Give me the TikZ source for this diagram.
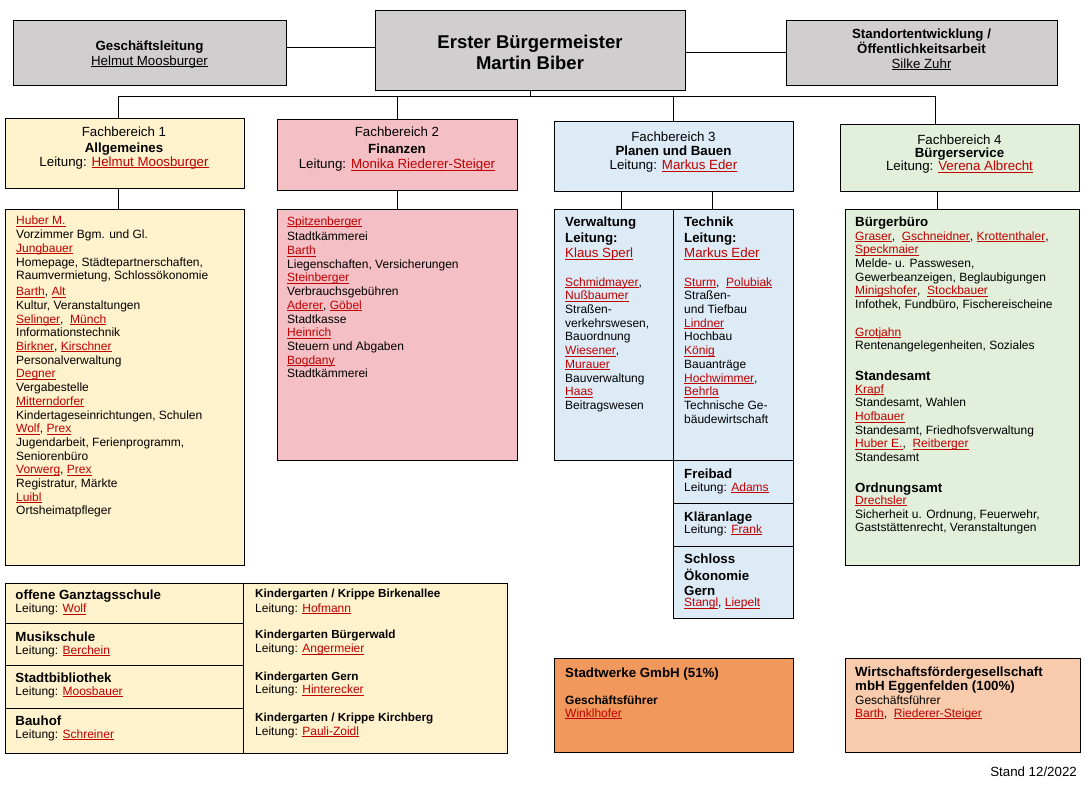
\documentclass[tikz,border=0pt]{standalone}
\usepackage{fontspec}
\setmainfont{Liberation Sans}
\usepackage{xcolor}
\definecolor{nred}{HTML}{C00000}
\definecolor{cgray}{HTML}{D0CECE}
\definecolor{ccream}{HTML}{FFF2CC}
\definecolor{cpink}{HTML}{F4BFC5}
\definecolor{cblue}{HTML}{DDEBF7}
\definecolor{cgreen}{HTML}{E2EFDA}
\definecolor{corange}{HTML}{F1995D}
\definecolor{cpeach}{HTML}{F8CBAD}
\newcommand\ulname[1]{\leavevmode\setbox0\hbox{#1}\rlap{\rule[-1.7pt]{\wd0}{0.75pt}}\box0}
\newcommand\nm[1]{\textcolor{nred}{\ulname{#1}}}
\newcommand\fb{\fontsize{12}{13.7}\selectfont}
\newcommand\fh{\fontsize{13.3}{15.5}\selectfont\bfseries}
\newcommand\ft{\fontsize{13.3}{15}\selectfont}
\newcommand\fk{\fontsize{11.7}{14}\selectfont\bfseries}
\newcommand\fbm{\fontsize{18.5}{21}\selectfont\bfseries}
\tikzset{
  box/.style={draw=black, line width=0.8pt, inner sep=0pt, outer sep=0pt, anchor=north west},
  ln/.style={inner sep=0pt, anchor=base west},
  lc/.style={inner sep=0pt, anchor=base},
  blk/.style={inner sep=0pt, anchor=north west, align=left},
  con/.style={draw=black, line width=0.8pt},
}
\newcommand\bx[6]{\node[box, fill=#6, minimum width={#4-#2}, minimum height={#5-#3}] (#1) at (#2,#3) {};}
\begin{document}
\begin{tikzpicture}[x=1pt,y=-1pt]
\useasboundingbox[fill=white] (0,0) rectangle (1086,785);
% boxes
\bx{gl}{13}{20}{286}{85}{cgray}
\bx{bm}{375}{10}{685}{90}{cgray}
\bx{se}{786}{20}{1057}{85}{cgray}
\bx{fb1}{5}{118}{244}{188}{ccream}
\bx{fb2}{277}{119}{517}{190}{cpink}
\bx{fb3}{554}{121}{793}{191}{cblue}
\bx{fb4}{840}{124}{1079}{191}{cgreen}
\bx{col1}{5}{209}{244}{565}{ccream}
\bx{col2}{277}{209}{517}{460}{cpink}
\bx{verw}{554}{209}{673}{460}{cblue}
\bx{tech}{673}{209}{793}{460}{cblue}
\bx{frei}{673}{460}{793}{503}{cblue}
\bx{klaer}{673}{503}{793}{546}{cblue}
\bx{schl}{673}{546}{793}{618}{cblue}
\bx{col4}{845}{209}{1079}{565}{cgreen}
\bx{ogs}{5}{583}{243}{623}{ccream}
\bx{musik}{5}{623}{243}{665}{ccream}
\bx{bib}{5}{665}{243}{708}{ccream}
\bx{bauhof}{5}{708}{243}{753}{ccream}
\bx{kita}{243}{583}{507}{753}{ccream}
\bx{sw}{554}{658}{793}{752}{corange}
\bx{wf}{845}{658}{1080}{752}{cpeach}
% connectors
\coordinate (cl) at (300,47.5);
\coordinate (cr) at (700,52);
\coordinate (busL) at (118,96);
\coordinate (busR) at (935,96);
\coordinate (v1) at (621,0);
\coordinate (v2) at (712,0);
\coordinate (v4) at (937,0);
\draw[con] (gl.east |- cl) -- (bm.west |- cl);
\draw[con] (bm.east |- cr) -- (se.west |- cr);
\draw[con] (busL) -- (busR);
\draw[con] (bm.south) -- (bm.south |- busL);
\draw[con] (busL) -- (busL |- fb1.north);
\draw[con] (fb2.north |- busL) -- (fb2.north);
\draw[con] (fb3.north |- busL) -- (fb3.north);
\draw[con] (busR) -- (busR |- fb4.north);
\draw[con] (busL |- fb1.south) -- (busL |- col1.north);
\draw[con] (fb2.south) -- (col2.north);
\draw[con] (v1 |- fb3.south) -- (v1 |- verw.north);
\draw[con] (v2 |- fb3.south) -- (v2 |- tech.north);
\draw[con] (v4 |- fb4.south) -- (v4 |- col4.north);
% top texts
\node[lc, font=\ft\bfseries] (glt) at (149.5,50.5) {Geschäftsleitung};
\node[lc, font=\ft] (gln) at (149.5,65.5) {\ulname{Helmut Moosburger}};
\node[lc, font=\fbm] (bmt) at (530,48.9) {Erster Bürgermeister};
\node[lc, font=\fbm] (bmn) at (530,69.9) {Martin Biber};
\node[lc, font=\ft\bfseries] (set1) at (921.5,38.1) {Standortentwicklung /};
\node[lc, font=\ft\bfseries] (set2) at (921.5,53.1) {Öffentlichkeitsarbeit};
\node[lc, font=\ft] (sen) at (921.5,68.1) {\ulname{Silke Zuhr}};
% Fachbereiche
\node[lc, font=\ft] (f1a) at (124,136.4) {Fachbereich 1};
\node[lc, font=\ft\bfseries] (f1b) at (124,152) {Allgemeines};
\node[lc, font=\ft] (f1c) at (124,166.4) {Leitung: \nm{Helmut Moosburger}};
\node[lc, font=\ft] (f2a) at (397,136.4) {Fachbereich 2};
\node[lc, font=\ft\bfseries] (f2b) at (397,153) {Finanzen};
\node[lc, font=\ft] (f2c) at (397,168.7) {Leitung: \nm{Monika Riederer-Steiger}};
\node[lc, font=\ft] (f3a) at (673.5,141.4) {Fachbereich 3};
\node[lc, font=\ft\bfseries] (f3b) at (673.5,155.7) {Planen und Bauen};
\node[lc, font=\ft] (f3c) at (673.5,169.7) {Leitung: \nm{Markus Eder}};
\node[lc, font=\ft] (f4a) at (959.5,144) {Fachbereich 4};
\node[lc, font=\ft\bfseries] (f4b) at (959.5,157) {Bürgerservice};
\node[lc, font=\ft] (f4c) at (959.5,170.7) {Leitung: \nm{Verena Albrecht}};
% column 1
\node[blk, font=\fb] (t1) at (16,215.1) {\strut\nm{Huber M.}\\
Vorzimmer Bgm. und Gl.\\
\nm{Jungbauer}\\
Homepage, Städtepartnerschaften,\\
Raumvermietung, Schlossökonomie\\[2.3pt]
\nm{Barth}, \nm{Alt}\\
Kultur, Veranstaltungen\\
\nm{Selinger},~ \nm{Münch}\\
Informationstechnik\\
\nm{Birkner}, \nm{Kirschner}\\
Personalverwaltung\\
\nm{Degner}\\
Vergabestelle\\
\nm{Mitterndorfer}\\
Kindertageseinrichtungen, Schulen\\
\nm{Wolf}, \nm{Prex}\\
Jugendarbeit, Ferienprogramm,\\
Seniorenbüro\\
\nm{Vorwerg}, \nm{Prex}\\
Registratur, Märkte\\
\nm{Luibl}\\
Ortsheimatpfleger};
% column 2
\node[blk, font=\fb] (t2) at (287,215.4) {\strut\nm{Spitzenberger}\\[2pt]
Stadtkämmerei\\
\nm{Barth}\\
Liegenschaften, Versicherungen\\
\nm{Steinberger}\\
Verbrauchsgebühren\\
\nm{Aderer}, \nm{Göbel}\\
Stadtkasse\\
\nm{Heinrich}\\
Steuern und Abgaben\\
\nm{Bogdany}\\
Stadtkämmerei};
% column 3
\node[blk, font=\fh] (t3a) at (565,215.6) {\strut Verwaltung\\Leitung:\\{\mdseries\nm{Klaus Sperl}}};
\node[blk, font=\fb] (t3b) at (565,276.4) {\strut\nm{Schmidmayer},\\
\nm{Nußbaumer}\\
Straßen-\\
verkehrswesen,\\
Bauordnung\\
\nm{Wiesener},\\
\nm{Murauer}\\
Bauverwaltung\\
\nm{Haas}\\
Beitragswesen};
\node[blk, font=\fh] (t3c) at (684,215.6) {\strut Technik\\Leitung:\\{\mdseries\nm{Markus Eder}}};
\node[blk, font=\fb] (t3d) at (684,276.4) {\strut\nm{Sturm},~ \nm{Polubiak}\\
Straßen-\\
und Tiefbau\\
\nm{Lindner}\\
Hochbau\\
\nm{König}\\
Bauanträge\\
\nm{Hochwimmer},\\
\nm{Behrla}\\
Technische Ge-\\
bäudewirtschaft};
\node[ln, font=\fh] (fr1) at (684,478) {Freibad};
\node[ln, font=\fb] (fr2) at (684,491) {Leitung: \nm{Adams}};
\node[ln, font=\fh] (kl1) at (684,521.5) {Kläranlage};
\node[ln, font=\fb] (kl2) at (684,533.3) {Leitung: \nm{Frank}};
\node[blk, font=\fh] (sc1) at (684,552.3) {\strut Schloss\\Ökonomie\\Gern};
\node[ln, font=\fb] (sc2) at (684,606.7) {\nm{Stangl}, \nm{Liepelt}};
% column 4
\node[ln, font=\fh] (b4a) at (855,226.5) {Bürgerbüro};
\node[blk, font=\fb] (b4b) at (855,230.4) {\strut\nm{Graser},~ \nm{Gschneidner}, \nm{Krottenthaler},\\
\nm{Speckmaier}\\
Melde- u. Passwesen,\\
Gewerbeanzeigen, Beglaubigungen\\
\nm{Minigshofer},~ \nm{Stockbauer}\\
Infothek, Fundbüro, Fischereischeine\\[13.7pt]
\nm{Grotjahn}\\
Rentenangelegenheiten, Soziales};
\node[ln, font=\fh] (b4c) at (855,380.8) {Standesamt};
\node[blk, font=\fb] (b4d) at (855,383.4) {\strut\nm{Krapf}\\
Standesamt, Wahlen\\
\nm{Hofbauer}\\
Standesamt, Friedhofsverwaltung\\
\nm{Huber E.},~ \nm{Reitberger}\\
Standesamt};
\node[ln, font=\fh] (b4e) at (855,492.5) {Ordnungsamt};
\node[blk, font=\fb] (b4f) at (855,494.7) {\strut\nm{Drechsler}\\
Sicherheit u. Ordnung, Feuerwehr,\\
Gaststättenrecht, Veranstaltungen};
% bottom left
\node[ln, font=\fh] (o1) at (15.3,599.5) {offene Ganztagsschule};
\node[ln, font=\fb] (o2) at (15.3,612.7) {Leitung: \nm{Wolf}};
\node[ln, font=\fh] (m1) at (15.3,641.1) {Musikschule};
\node[ln, font=\fb] (m2) at (15.3,654.3) {Leitung: \nm{Berchein}};
\node[ln, font=\fh] (s1) at (15.3,682.8) {Stadtbibliothek};
\node[ln, font=\fb] (s2) at (15.3,695.3) {Leitung: \nm{Moosbauer}};
\node[ln, font=\fh] (h1) at (15.3,725.1) {Bauhof};
\node[ln, font=\fb] (h2) at (15.3,738) {Leitung: \nm{Schreiner}};
\node[ln, font=\fk] (k1) at (255,597.2) {Kindergarten / Krippe Birkenallee};
\node[ln, font=\fb] (k2) at (255,612) {Leitung: \nm{Hofmann}};
\node[ln, font=\fk] (k3) at (255,638.9) {Kindergarten Bürgerwald};
\node[ln, font=\fb] (k4) at (255,652.7) {Leitung: \nm{Angermeier}};
\node[ln, font=\fk] (k5) at (255,680.5) {Kindergarten Gern};
\node[ln, font=\fb] (k6) at (255,693.7) {Leitung: \nm{Hinterecker}};
\node[ln, font=\fk] (k7) at (255,721.5) {Kindergarten / Krippe Kirchberg};
\node[ln, font=\fb] (k8) at (255,735.3) {Leitung: \nm{Pauli-Zoidl}};
% bottom right
\node[ln, font=\fh] (w1) at (565,677.5) {Stadtwerke GmbH (51\%)};
\node[ln, font=\fb\bfseries] (w2) at (565,704) {Geschäftsführer};
\node[ln, font=\fb] (w3) at (565,717.5) {\nm{Winklhofer}};
\node[ln, font=\fh] (x1) at (855,676.5) {Wirtschaftsfördergesellschaft};
\node[ln, font=\fh] (x2) at (855,690.5) {mbH Eggenfelden (100\%)};
\node[ln, font=\fb] (x3) at (855,704) {Geschäftsführer};
\node[ln, font=\fb] (x4) at (855,717.3) {\nm{Barth},~ \nm{Riederer-Steiger}};
\node[inner sep=0pt, anchor=base east, font=\fontsize{13.3}{15}\selectfont] (stand) at (1077,776.5) {Stand 12/2022};
\end{tikzpicture}
\end{document}
